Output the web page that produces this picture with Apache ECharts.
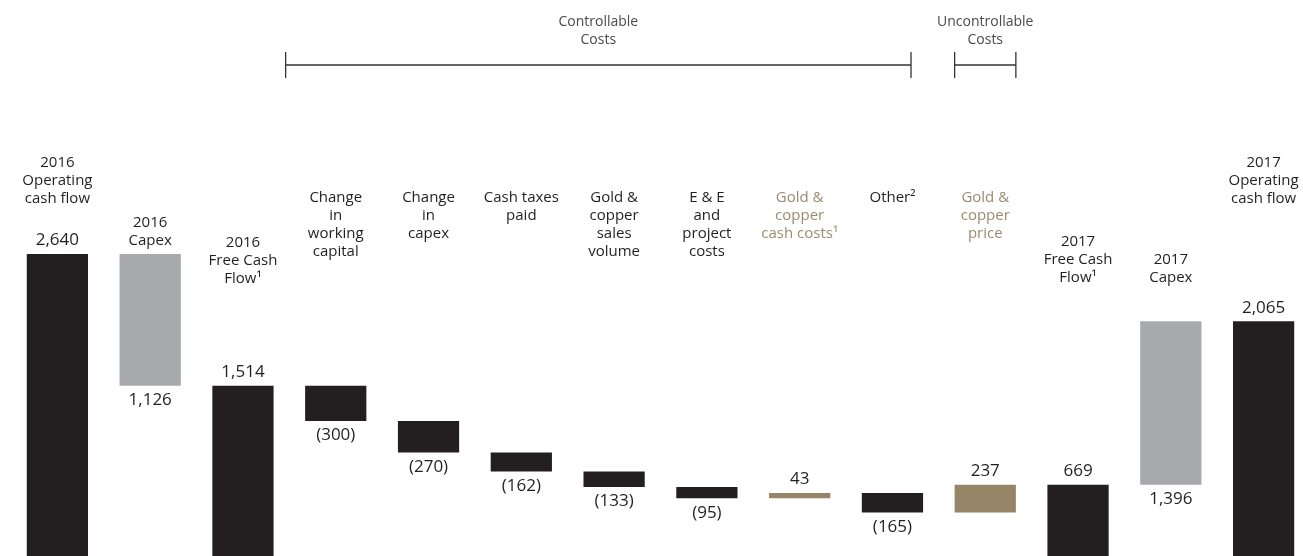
<!DOCTYPE html>
<html>
<head>
<meta charset="utf-8">
<script src="https://cdn.jsdelivr.net/npm/echarts@6/dist/echarts.min.js"></script>
<style>
  html, body { margin: 0; padding: 0; background: #ffffff; }
  #chart { width: 1303px; height: 556px; }
</style>
</head>
<body>
<div id="chart"></div>
<script>
// Operating cash flow bridge, 2016 -> 2017 (US$ millions)
const categories = [
  '2016\nOperating\ncash flow',
  '2016\nCapex',
  '2016\nFree Cash\nFlow¹',
  'Change\nin\nworking\ncapital',
  'Change\nin\ncapex',
  'Cash taxes\npaid',
  'Gold &\ncopper\nsales\nvolume',
  'E & E\nand\nproject\ncosts',
  'Gold &\ncopper\ncash costs¹',
  'Other²',
  'Gold &\ncopper\nprice',
  '2017\nFree Cash\nFlow¹',
  '2017\nCapex',
  '2017\nOperating\ncash flow'
];

// Signed movements; 'total' entries are absolute levels
const amounts = [2640, -1126, 1514, -300, -270, -162, -133, -95, 43, -165, 237, 669, 1396, 2065];

// Role of each column in the bridge
const kinds = ['total', 'capex', 'total', 'cost', 'cost', 'cost', 'cost', 'cost', 'market', 'cost', 'market', 'total', 'capex', 'total'];

// Bracketed groups of columns above the chart
const groupNames = ['Controllable\nCosts', 'Uncontrollable\nCosts'];
const groupFrom = [3, 10];
const groupTo = [9, 10];

// ---- styling ----
const COLORS = { total: '#231f20', cost: '#231f20', capex: '#a7a9ac', market: '#968566' };
const TEXT_DARK = '#231f20';
const TEXT_MARKET = '#9b8b6e';
const FONT = "'Open Sans', 'Noto Sans', sans-serif";
// extra top spacing of each category caption
const captionGap = [0, 60, 80, 35, 35, 35, 35, 35, 35, 35, 35, 79, 97, 0];

// ---- waterfall geometry ----
const baseVals = [];
const barVals = [];
let running = 0;
amounts.forEach((a, i) => {
  if (kinds[i] === 'total') {
    baseVals.push(0);
    barVals.push(a);
    running = a;
  } else if (a >= 0) {
    baseVals.push(running);
    barVals.push(a);
    running += a;
  } else {
    running += a;
    baseVals.push(running);
    barVals.push(-a);
  }
});

function fmt(v) {
  return Math.abs(v).toLocaleString('en-US');
}
function valueText(i) {
  const a = amounts[i];
  if (kinds[i] !== 'capex' && a < 0) return '(' + fmt(a) + ')';
  return fmt(a);
}
function labelPos(i) {
  if (kinds[i] === 'capex') return 'bottom';
  return amounts[i] < 0 ? 'bottom' : 'top';
}

const rich = {
  n: { fontSize: 15, lineHeight: 18, color: TEXT_DARK, fontFamily: FONT, align: 'center' },
  m: { fontSize: 15, lineHeight: 18, color: TEXT_MARKET, fontFamily: FONT, align: 'center' }
};
captionGap.forEach((g, i) => {
  if (g > 0) rich['g' + i] = { height: g, lineHeight: g, fontSize: 1, align: 'center' };
});

const chart = echarts.init(document.getElementById('chart'), null, { renderer: 'canvas' });

chart.setOption({
  backgroundColor: '#ffffff',
  animation: false,
  grid: { left: 11, width: 1299, top: 254, height: 309, containLabel: false, outerBoundsMode: 'none' },
  xAxis: {
    type: 'category',
    position: 'top',
    data: categories,
    axisLine: { show: false },
    axisTick: { show: false },
    axisLabel: {
      interval: 0,
      margin: 100,
      verticalAlign: 'top',
      align: 'center',
      rich: rich,
      formatter: function (value, idx) {
        const st = kinds[idx] === 'market' ? 'm' : 'n';
        const lines = value.split('\n').map(l => '{' + st + '|' + l + '}');
        const head = captionGap[idx] > 0 ? '{g' + idx + '|}\n' : '';
        return head + lines.join('\n');
      }
    }
  },
  yAxis: {
    type: 'value',
    min: 0,
    max: 2640,
    show: false,
    splitLine: { show: false }
  },
  series: [
    {
      name: 'base',
      type: 'bar',
      stack: 'bridge',
      silent: true,
      barWidth: '66%',
      itemStyle: { color: 'transparent' },
      emphasis: { disabled: true },
      data: baseVals
    },
    {
      name: 'movement',
      type: 'bar',
      stack: 'bridge',
      barWidth: '66%',
      emphasis: { disabled: true },
      data: barVals.map((v, i) => ({
        value: v,
        itemStyle: { color: COLORS[kinds[i]] },
        label: {
          show: true,
          position: labelPos(i),
          distance: labelPos(i) === 'bottom' ? 6 : 5,
          formatter: () => valueText(i),
          fontSize: 17,
          fontFamily: FONT,
          color: TEXT_DARK
        }
      }))
    }
  ]
});

// Group brackets above the columns, placed from the category scale
function drawBrackets() {
  const px = i => chart.convertToPixel({ xAxisIndex: 0 }, i);
  const step = px(1) - px(0);
  const elements = [];
  const lineY = 65, tickTop = 52, tickBot = 78;
  const lineStyle = { stroke: '#333333', lineWidth: 1.3 };
  groupNames.forEach((name, g) => {
    let x1, x2;
    if (groupFrom[g] === groupTo[g]) {
      x1 = px(groupFrom[g]) - 0.33 * step;
      x2 = px(groupTo[g]) + 0.33 * step;
    } else {
      x1 = px(groupFrom[g]) - 0.54 * step;
      x2 = px(groupTo[g]) + 0.2 * step;
    }
    elements.push({ type: 'line', shape: { x1: x1, y1: lineY, x2: x2, y2: lineY }, style: lineStyle, silent: true });
    elements.push({ type: 'line', shape: { x1: x1, y1: tickTop, x2: x1, y2: tickBot }, style: lineStyle, silent: true });
    elements.push({ type: 'line', shape: { x1: x2, y1: tickTop, x2: x2, y2: tickBot }, style: lineStyle, silent: true });
    elements.push({
      type: 'text',
      x: (x1 + x2) / 2,
      y: 13,
      silent: true,
      style: {
        text: name,
        fill: '#4a4a4a',
        font: '14px ' + FONT,
        lineHeight: 18,
        align: 'center',
        verticalAlign: 'top'
      }
    });
  });
  chart.setOption({ graphic: elements });
}
drawBrackets();
</script>
</body>
</html>
